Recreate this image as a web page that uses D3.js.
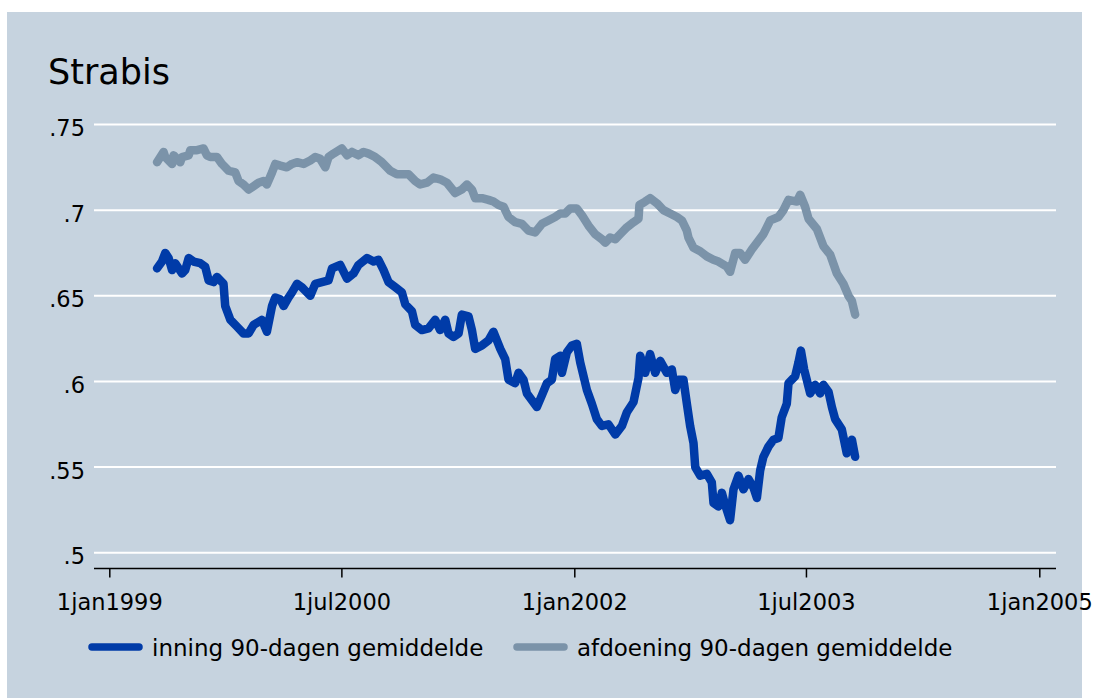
<!DOCTYPE html>
<html>
<head>
<meta charset="utf-8">
<script src="https://cdn.jsdelivr.net/npm/d3@7"></script>
<style>
  body { margin: 0; background: #fff; }
  svg { display: block; font-family: "DejaVu Sans", Verdana, sans-serif; }
</style>
</head>
<body>
<div id="chart"></div>
<script>
// decimal years
let inningDates = [
  1999.308,1999.340,1999.361,1999.383,1999.405,1999.426,1999.469,1999.490,1999.512,1999.544,
  1999.587,1999.619,1999.641,1999.673,1999.695,1999.737,1999.748,1999.781,1999.824,1999.866,
  1999.899,1999.931,1999.985,2000.017,2000.050,2000.071,2000.103,2000.125,2000.157,2000.179,
  2000.211,2000.243,2000.275,2000.297,2000.329,2000.372,2000.415,2000.437,2000.490,2000.534,
  2000.576,2000.608,2000.663,2000.705,2000.737,2000.770,2000.802,2000.845,2000.888,2000.910,
  2000.953,2000.974,2001.017,2001.060,2001.103,2001.135,2001.168,2001.189,2001.221,2001.254,
  2001.275,2001.318,2001.340,2001.361,2001.405,2001.447,2001.479,2001.523,2001.555,2001.576,
  2001.619,2001.641,2001.673,2001.695,2001.727,2001.759,2001.792,2001.824,2001.856,2001.877,
  2001.910,2001.921,2001.953,2001.985,2002.017,2002.039,2002.082,2002.114,2002.146,2002.179,
  2002.221,2002.265,2002.308,2002.340,2002.383,2002.415,2002.426,2002.458,2002.490,2002.523,
  2002.555,2002.598,2002.630,2002.652,2002.673,2002.705,2002.727,2002.748,2002.770,2002.781,
  2002.813,2002.856,2002.888,2002.899,2002.931,2002.953,2002.974,2003.006,2003.028,2003.060,
  2003.092,2003.125,2003.157,2003.179,2003.200,2003.221,2003.254,2003.286,2003.318,2003.339,
  2003.372,2003.383,2003.426,2003.447,2003.463,2003.484,2003.523,2003.555,2003.587,2003.608,
  2003.641,2003.663,2003.684,2003.727,2003.759,2003.792,2003.813
];
let inningVals = [
  .666,.670,.675,.672,.665,.669,.663,.665,.672,.670,
  .669,.667,.659,.658,.661,.657,.644,.636,.632,.628,
  .628,.633,.636,.629,.644,.649,.648,.644,.649,.652,
  .657,.655,.652,.650,.657,.658,.659,.666,.668,.660,
  .663,.668,.672,.670,.671,.665,.658,.655,.652,.645,
  .641,.633,.630,.631,.636,.630,.636,.628,.626,.628,
  .639,.638,.630,.619,.621,.624,.629,.619,.613,.601,
  .599,.605,.601,.593,.589,.585,.592,.599,.601,.613,
  .615,.605,.617,.621,.622,.611,.595,.587,.578,.574,
  .575,.569,.574,.582,.588,.602,.615,.605,.616,.605,
  .612,.605,.607,.595,.601,.601,.587,.574,.564,.550,
  .545,.546,.541,.529,.527,.535,.528,.519,.537,.545,
  .537,.543,.538,.532,.548,.556,.562,.566,.567,.579,
  .587,.599,.603,.611,.618,.607,.593,.598,.593,.598,
  .594,.585,.578,.572,.558,.566,.556
];

let afdoeningDates = [
  1999.308,1999.350,1999.361,1999.405,1999.415,1999.458,1999.469,1999.512,1999.523,1999.566,
  1999.608,1999.630,1999.652,1999.695,1999.727,1999.770,1999.813,1999.834,1999.866,1999.899,
  1999.931,1999.963,1999.995,2000.017,2000.050,2000.071,2000.103,2000.146,2000.179,2000.211,
  2000.254,2000.297,2000.329,2000.361,2000.394,2000.415,2000.447,2000.501,2000.534,2000.566,
  2000.608,2000.641,2000.673,2000.716,2000.759,2000.813,2000.856,2000.899,2000.931,2000.974,
  2001.006,2001.050,2001.092,2001.135,2001.179,2001.232,2001.275,2001.308,2001.340,2001.361,
  2001.405,2001.447,2001.479,2001.512,2001.544,2001.576,2001.619,2001.663,2001.705,2001.748,
  2001.792,2001.834,2001.877,2001.910,2001.942,2001.974,2002.017,2002.050,2002.092,2002.135,
  2002.179,2002.200,2002.232,2002.265,2002.297,2002.340,2002.383,2002.415,2002.421,2002.458,
  2002.490,2002.534,2002.576,2002.619,2002.663,2002.695,2002.727,2002.737,2002.770,2002.813,
  2002.856,2002.899,2002.931,2002.985,2003.006,2003.039,2003.071,2003.103,2003.146,2003.179,
  2003.221,2003.265,2003.318,2003.350,2003.383,2003.437,2003.458,2003.490,2003.512,2003.566,
  2003.608,2003.652,2003.695,2003.737,2003.770,2003.792,2003.813
];
let afdoeningVals = [
  .728,.734,.731,.727,.732,.728,.731,.732,.735,.735,
  .736,.732,.731,.731,.727,.723,.722,.717,.715,.712,
  .714,.716,.717,.715,.722,.727,.726,.725,.727,.728,
  .727,.729,.731,.730,.725,.731,.733,.736,.732,.734,
  .732,.734,.733,.731,.728,.723,.721,.721,.721,.717,
  .715,.716,.719,.718,.716,.710,.712,.715,.712,.707,
  .707,.706,.705,.703,.702,.696,.693,.692,.688,.687,
  .692,.694,.696,.698,.698,.701,.701,.697,.691,.686,
  .683,.681,.684,.683,.686,.690,.693,.695,.703,.705,
  .707,.704,.700,.698,.696,.694,.688,.684,.678,.676,
  .673,.671,.670,.667,.664,.675,.675,.671,.677,.681,
  .686,.694,.696,.700,.706,.705,.709,.702,.695,.689,
  .679,.674,.663,.657,.650,.647,.639
];

let xTickDates = ["1999-01-01", "2000-07-01", "2002-01-01", "2003-07-01", "2005-01-01"];
let xTickLabels = ["1jan1999", "1jul2000", "1jan2002", "1jul2003", "1jan2005"];
let yTicks = [.5, .55, .6, .65, .7, .75];
let yTickLabels = [".5", ".55", ".6", ".65", ".7", ".75"];

let seriesNames = ["inning 90-dagen gemiddelde", "afdoening 90-dagen gemiddelde"];
let seriesColors = ["#003ba8", "#7b93a9"];

const width = 1096, height = 698;
const plotLeft = 94, plotRight = 1056;

function yearToDate(y) {
  return new Date(Date.UTC(1999, 0, 1) + (y - 1999) * 365.25 * 864e5);
}

let svg = d3.select("#chart")
  .append("svg")
  .attr("width", width)
  .attr("height", height);

svg.append("rect")
  .attr("x", 7).attr("y", 12)
  .attr("width", 1075).attr("height", 700)
  .attr("fill", "#c6d3df");

let x = d3.scaleUtc()
  .domain([new Date("1999-01-01T00:00:00Z"), new Date("2005-01-01T00:00:00Z")])
  .range([109.3, 1039.3]);

let y = d3.scaleLinear()
  .domain([0.5, 0.75])
  .range([552.7, 124.5]);

// gridlines
svg.append("g")
  .selectAll("line")
  .data(yTicks)
  .enter()
  .append("line")
  .attr("x1", plotLeft).attr("x2", plotRight)
  .attr("y1", d => y(d)).attr("y2", d => y(d))
  .attr("stroke", "#fff")
  .attr("stroke-width", 2);

// y labels
let yAxis = svg.append("g")
  .attr("transform", `translate(${plotLeft - 9}, 0)`)
  .call(d3.axisLeft(y).tickValues(yTicks).tickSize(0).tickPadding(0)
    .tickFormat((d, i) => yTickLabels[i]));
yAxis.select(".domain").remove();
yAxis.selectAll("text")
  .attr("dy", null)
  .attr("y", 11)
  .attr("fill", "#000")
  .style("font-size", "22.5px")
  .style("font-family", "DejaVu Sans, sans-serif");

// x axis
const axisY = 568.5;
let xAxis = svg.append("g")
  .attr("transform", `translate(0, ${axisY})`)
  .call(d3.axisBottom(x)
    .tickValues(xTickDates.map(d => new Date(d + "T00:00:00Z")))
    .tickSize(9).tickPadding(0)
    .tickFormat((d, i) => xTickLabels[i]));
xAxis.select(".domain").remove();
xAxis.selectAll(".tick line").attr("stroke", "#000").attr("stroke-width", 1.5);
xAxis.selectAll("text")
  .attr("dy", null)
  .attr("y", 41)
  .attr("fill", "#000")
  .style("font-size", "22.5px")
  .style("font-family", "DejaVu Sans, sans-serif");
svg.append("line")
  .attr("x1", plotLeft).attr("x2", plotRight)
  .attr("y1", axisY).attr("y2", axisY)
  .attr("stroke", "#000")
  .attr("stroke-width", 1.5);

// lines
let line = d3.line()
  .x(d => x(yearToDate(d[0])))
  .y(d => y(d[1]));

let inning = inningDates.map((d, i) => [d, inningVals[i]]);
let afdoening = afdoeningDates.map((d, i) => [d, afdoeningVals[i]]);

[inning, afdoening].forEach(function(data, i) {
  svg.append("path")
    .datum(data)
    .attr("d", line)
    .attr("fill", "none")
    .attr("stroke", seriesColors[i])
    .attr("stroke-width", 8.5)
    .attr("stroke-linejoin", "round")
    .attr("stroke-linecap", "round");
});

// title
svg.append("text")
  .attr("x", 48)
  .attr("y", 84)
  .style("font-size", "35px")
  .attr("fill", "#000")
  .text("Strabis");

// legend
let legendX = [92, 517];
let legend = svg.append("g");
seriesNames.forEach(function(name, i) {
  legend.append("line")
    .attr("x1", legendX[i]).attr("x2", legendX[i] + 47)
    .attr("y1", 647).attr("y2", 647)
    .attr("stroke", seriesColors[i])
    .attr("stroke-width", 7.5)
    .attr("stroke-linecap", "round");
  legend.append("text")
    .attr("x", legendX[i] + 60)
    .attr("y", 656)
    .style("font-size", "23px")
    .attr("fill", "#000")
    .text(name);
});
</script>
</body>
</html>
